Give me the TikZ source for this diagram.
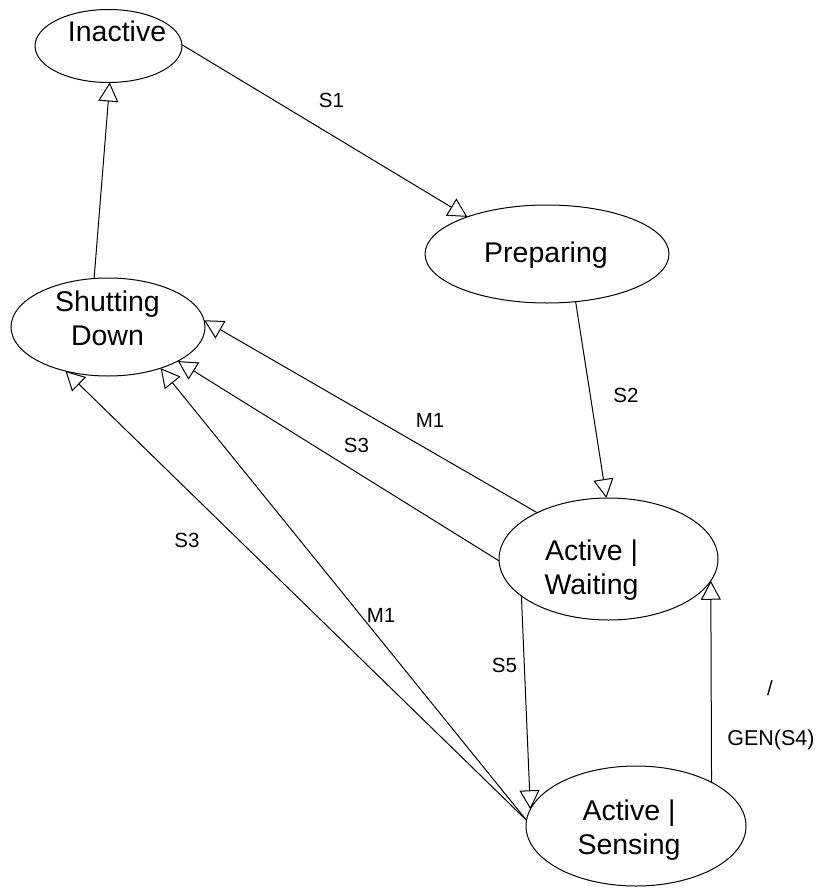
\documentclass[tikz,border=0pt]{standalone}
\usepackage{fontspec}
\setmainfont{Liberation Sans}
\usetikzlibrary{shapes.geometric,arrows.meta}
\begin{document}
\begin{tikzpicture}[x=1pt,y=-1pt,
  state/.style={ellipse, draw, line width=1pt, inner sep=0pt, outer sep=0pt},
  statetext/.style={font=\fontsize{28.5}{33.5}\selectfont, align=center, inner sep=0pt, anchor=base},
  trans/.style={line width=1pt, -{Triangle[open, length=19pt, width=20pt, line width=1pt]}},
  lbl/.style={font=\fontsize{20.5}{24}\selectfont, inner sep=0pt, anchor=base}]
\useasboundingbox (0,0) rectangle (818,888);

% states
\node[state, minimum width=147pt, minimum height=73pt] (inactive) at (108.5,46) {};
\node[state, minimum width=194pt, minimum height=98pt] (shutdown) at (108,327) {};
\node[state, minimum width=244pt, minimum height=98pt] (preparing) at (547,254) {};
\node[state, minimum width=219pt, minimum height=122pt] (waiting) at (608.5,559) {};
\node[state, minimum width=220pt, minimum height=120pt] (sensing) at (636,826) {};

% state names (base anchor sits on the last line's baseline)
\node[statetext] (inactive-name) at (117,42) {Inactive};
\node[statetext] (shutdown-name) at (107.5,345) {Shutting\\Down};
\node[statetext] (preparing-name) at (546,262) {Preparing};
\node[statetext] (waiting-name) at (591.5,594) {Active |\\Waiting};
\node[statetext] (sensing-name) at (629,854) {Active |\\Sensing};

% transitions
\draw[trans] (inactive.1) -- (preparing.155.2);
\draw[trans] (preparing.301.5) -- (waiting.92.3);
\draw[trans] (shutdown.106) -- (inactive.272.3);
\draw[trans] (waiting.147.25) -- (shutdown.4.1);
\draw[trans] (waiting.181.6) -- (shutdown.334.7);
\draw[trans] (sensing.177) -- (shutdown.322.8);
\draw[trans] (sensing.177) -- (shutdown.226.3);
\draw[trans] (waiting.203.6) -- (sensing.171.6);
\draw[trans] (sensing.30.6) -- (waiting.348.5);

% transition labels
\node[lbl] (l-s1) at (331.5,108) {S1};
\node[lbl] (l-s2) at (626,402) {S2};
\node[lbl] (l-m1a) at (430,427) {M1};
\node[lbl] (l-s3a) at (356.5,452) {S3};
\node[lbl] (l-m1b) at (381,622) {M1};
\node[lbl] (l-s3b) at (187,547) {S3};
\node[lbl] (l-s5) at (504.5,672) {S5};
\node[lbl] (l-slash) at (770,695) {/};
\node[lbl, font=\fontsize{21.5}{25}\selectfont] (l-gen) at (771,745) {GEN(S4)};
\end{tikzpicture}
\end{document}
